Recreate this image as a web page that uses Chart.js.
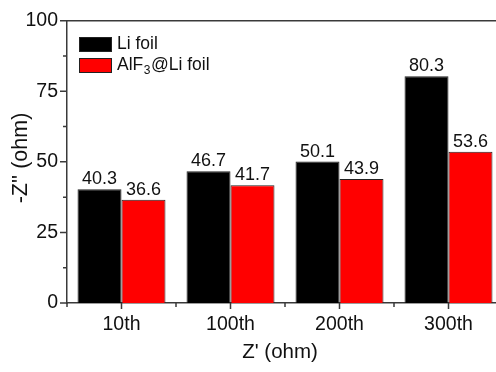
<!DOCTYPE html>
<html>
<head>
<meta charset="utf-8">
<script src="https://cdn.jsdelivr.net/npm/chart.js@4"></script>
<style>
  html, body { margin: 0; padding: 0; background: #fff; overflow: hidden; }
  #wrap { width: 496px; height: 372px; overflow: hidden; }
</style>
</head>
<body>
<div id="wrap"><canvas id="impChart" width="510" height="372"></canvas></div>
<script>
const cycles = ["10th", "100th", "200th", "300th"];
const liFoil = [40.3, 46.7, 50.1, 80.3];
const alf3Foil = [36.6, 41.7, 43.9, 53.6];
const yMajorTicks = [0, 25, 50, 75, 100];
const yMinorTicks = [12.5, 37.5, 62.5, 87.5];

const FONT = "'Liberation Sans', Arial, sans-serif";
const AXIS = "#3a3a3a";

// tick marks, top frame line, axis titles, value labels and legend
const decor = {
  id: "decor",
  afterDraw(chart) {
    const ctx = chart.ctx;
    const area = chart.chartArea;
    const x = chart.scales.x;
    const y = chart.scales.y;
    ctx.save();

    ctx.strokeStyle = AXIS;
    ctx.lineWidth = 1.5;
    ctx.beginPath();
    ctx.moveTo(area.left, area.top);
    ctx.lineTo(area.right, area.top);
    yMajorTicks.forEach(v => {
      const py = y.getPixelForValue(v);
      ctx.moveTo(area.left - 7, py);
      ctx.lineTo(area.left, py);
    });
    yMinorTicks.forEach(v => {
      const py = y.getPixelForValue(v);
      ctx.moveTo(area.left - 4, py);
      ctx.lineTo(area.left, py);
    });
    cycles.forEach((c, i) => {
      const px = x.getPixelForValue(i);
      ctx.moveTo(px, area.bottom);
      ctx.lineTo(px, area.bottom + 6);
      const bx = x.getPixelForValue(i - 0.5);
      ctx.moveTo(bx, area.bottom);
      ctx.lineTo(bx, area.bottom + 4);
    });
    ctx.stroke();

    // axis titles
    ctx.fillStyle = "#111";
    ctx.textAlign = "center";
    ctx.textBaseline = "middle";
    ctx.font = "20.5px " + FONT;
    ctx.fillText("Z' (ohm)", 280, 352);
    ctx.save();
    ctx.translate(21, 158);
    ctx.rotate(-Math.PI / 2);
    ctx.font = "21.5px " + FONT;
    ctx.fillText("-Z'' (ohm)", 0, 0);
    ctx.restore();

    // value labels above each bar
    ctx.font = "18px " + FONT;
    ctx.textBaseline = "alphabetic";
    chart.data.datasets.forEach((ds, di) => {
      chart.getDatasetMeta(di).data.forEach((bar, i) => {
        ctx.fillText(ds.data[i].toFixed(1), bar.x, bar.y - 5);
      });
    });

    // legend
    ctx.lineWidth = 1;
    ctx.strokeStyle = "#222";
    ctx.fillStyle = "#000";
    ctx.fillRect(79, 37, 33, 15);
    ctx.strokeRect(79.5, 37.5, 32, 14);
    ctx.fillStyle = "#ff0000";
    ctx.fillRect(79, 58, 33, 15);
    ctx.strokeRect(79.5, 58.5, 32, 14);
    ctx.fillStyle = "#111";
    ctx.textAlign = "left";
    ctx.textBaseline = "middle";
    ctx.font = "17.5px " + FONT;
    ctx.fillText("Li foil", 117, 44.5);
    let tx = 117;
    ctx.fillText("AlF", tx, 65.5);
    tx += ctx.measureText("AlF").width;
    ctx.font = "12px " + FONT;
    ctx.fillText("3", tx + 0.5, 71);
    tx += ctx.measureText("3").width + 1;
    ctx.font = "17.5px " + FONT;
    ctx.fillText("@Li foil", tx, 65.5);

    ctx.restore();
  }
};

new Chart(document.getElementById("impChart"), {
  type: "bar",
  data: {
    labels: cycles,
    datasets: [
      {
        label: "Li foil",
        data: liFoil,
        backgroundColor: "#000000",
        borderColor: "#222",
        borderWidth: 1,
      },
      {
        label: "AlF3@Li foil",
        data: alf3Foil,
        backgroundColor: "#ff0000",
        borderColor: "#222",
        borderWidth: 1,
      },
    ],
  },
  options: {
    responsive: false,
    devicePixelRatio: 1,
    animation: false,
    layout: { padding: { top: 15, right: 7, left: 0, bottom: 0 } },
    datasets: { bar: { barPercentage: 1, categoryPercentage: 0.807 } },
    plugins: { legend: { display: false }, tooltip: { enabled: false } },
    scales: {
      x: {
        type: "category",
        grid: { display: false, drawTicks: false },
        border: { display: true, color: AXIS, width: 1.5 },
        ticks: {
          color: "#111",
          font: { family: FONT, size: 19.5 },
          padding: 10,
          maxRotation: 0,
        },
        afterFit(scale) { scale.height = 69; },
      },
      y: {
        min: 0,
        max: 100,
        grid: { display: false, drawTicks: false },
        border: { display: true, color: AXIS, width: 1.5 },
        ticks: {
          stepSize: 25,
          color: "#111",
          font: { family: FONT, size: 19.5 },
          padding: 9,
        },
        afterFit(scale) { scale.width = 67; },
      },
    },
  },
  plugins: [decor],
});
</script>
</body>
</html>
